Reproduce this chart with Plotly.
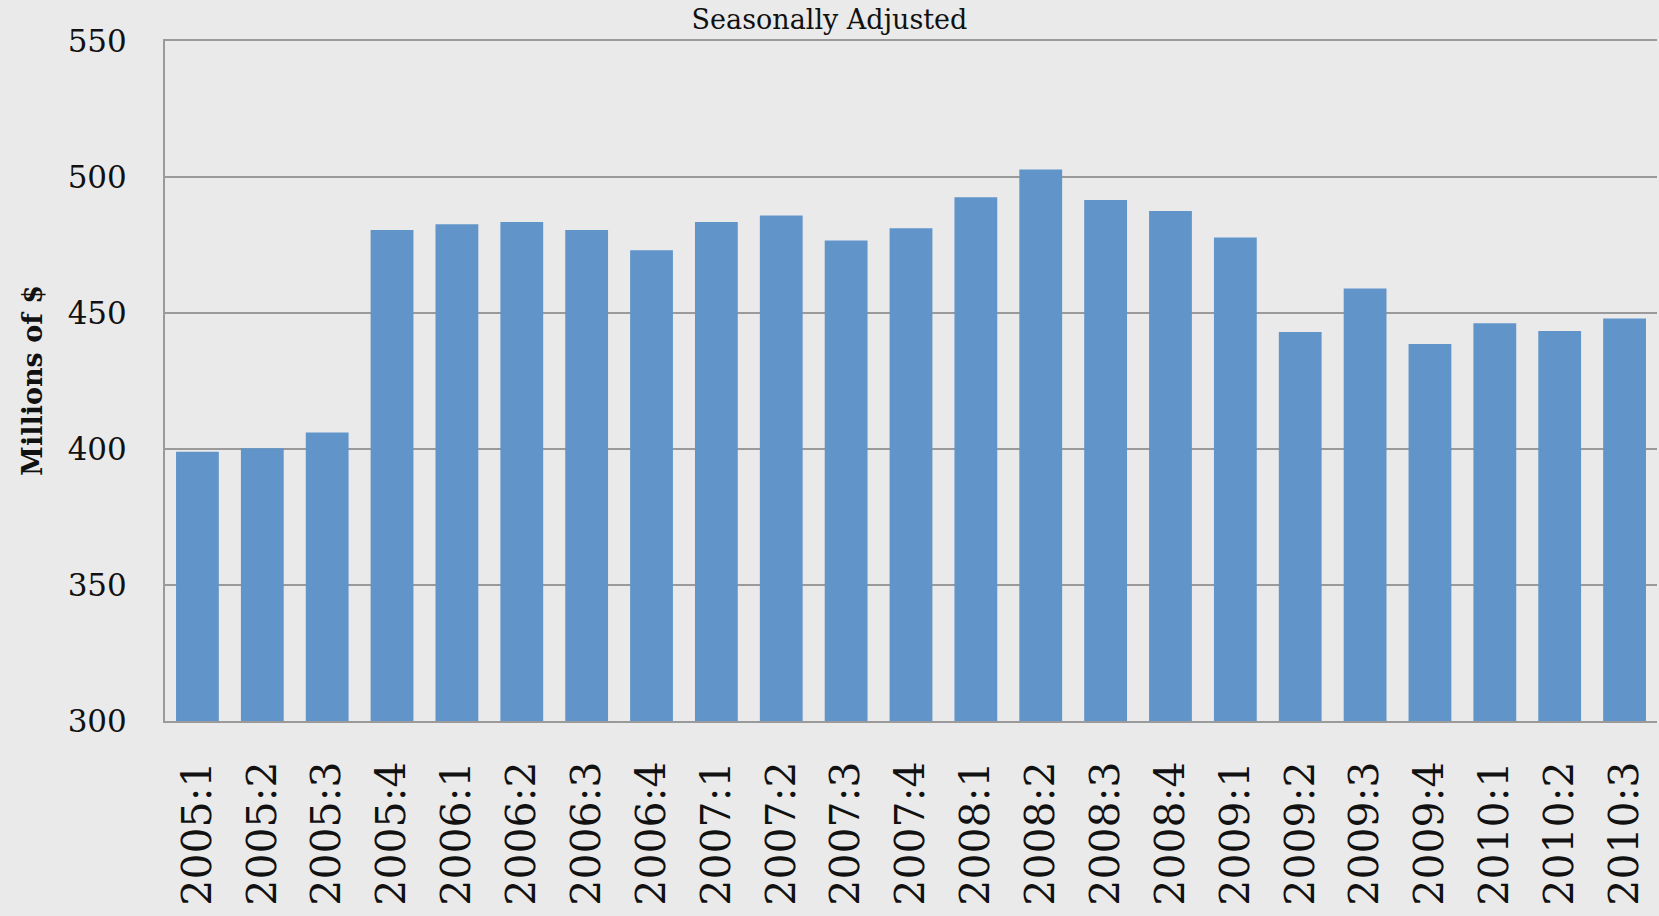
import plotly.graph_objects as go

# Quarterly values, millions of $ (seasonally adjusted)
quarters = [
    '2005:1', '2005:2', '2005:3', '2005:4',
    '2006:1', '2006:2', '2006:3', '2006:4',
    '2007:1', '2007:2', '2007:3', '2007:4',
    '2008:1', '2008:2', '2008:3', '2008:4',
    '2009:1', '2009:2', '2009:3', '2009:4',
    '2010:1', '2010:2', '2010:3',
]
values = [
    399, 400.3, 406.1, 480.5,
    482.6, 483.5, 480.5, 473.1,
    483.5, 485.8, 476.7, 481.2,
    492.6, 502.8, 491.5, 487.5,
    477.8, 443.0, 459.0, 438.6,
    446.2, 443.4, 448.0,
]
y_ticks = [300, 350, 400, 450, 500, 550]

serif = 'DejaVu Serif, Georgia, serif'
bg = '#eaeaea'
grid = '#9a9a9a'

fig = go.Figure()

fig.add_trace(go.Bar(
    x=quarters,
    y=values,
    marker=dict(color='#6195c9', line=dict(width=0)),
    hovertemplate='%{x}: %{y}<extra></extra>',
))

fig.update_layout(
    width=1659,
    height=916,
    paper_bgcolor=bg,
    plot_bgcolor=bg,
    margin=dict(l=165, r=2, t=41, b=195),
    bargap=0.34,
    showlegend=False,
    title=dict(
        text='Seasonally Adjusted',
        x=0.5, xanchor='center',
        y=1 - 10 / 916, yanchor='top',
        font=dict(family=serif, size=27, color='#111111'),
    ),
    xaxis=dict(
        tickangle=-90,
        tickfont=dict(family=serif, size=41, color='#111111'),
        showgrid=False,
        showline=True,
        mirror=True,
        linecolor=grid,
        linewidth=2,
        ticks='',
        ticklabelstandoff=22,
    ),
    yaxis=dict(
        range=[300, 550],
        tickvals=y_ticks,
        tickfont=dict(family=serif, size=31, color='#111111'),
        showgrid=True,
        gridcolor=grid,
        gridwidth=2,
        showline=True,
        linecolor=grid,
        linewidth=2,
        ticks='',
        ticklabelstandoff=30,
        zeroline=False,
    ),
    annotations=[dict(
        text='<b>Millions of $</b>',
        xref='paper', yref='paper',
        x=0, y=0.5,
        xshift=-133,
        xanchor='center', yanchor='middle',
        textangle=-90,
        showarrow=False,
        font=dict(family=serif, size=27, color='#111111'),
    )],
)

# drop the default page margin so the 1659x916 figure fills the window
fig.write_html(
    'out.html',
    config={'displayModeBar': False},
    post_script="document.body.style.margin='0';",
)
